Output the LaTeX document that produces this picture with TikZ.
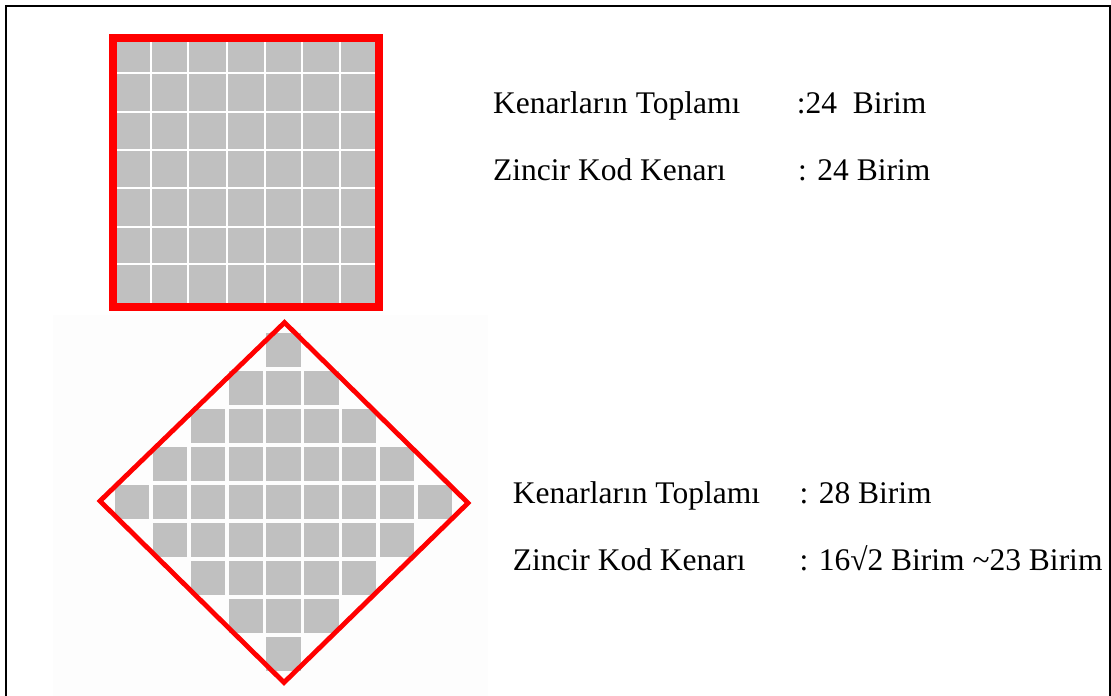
\documentclass[tikz,border=0pt]{standalone}
\usepackage{fontspec}
\setmainfont{Liberation Serif}
\definecolor{silver}{HTML}{C0C0C0}
\definecolor{offwhite}{HTML}{FDFDFD}
\definecolor{pured}{HTML}{FF0000}
\begin{document}
\begin{tikzpicture}[x=1pt,y=-1pt,
  lbl/.style={anchor=base west,inner sep=0pt,font=\fontsize{31.5}{36}\selectfont},
  cellfill/.style={fill=silver},
  gridline/.style={draw=white,line width=1.8},
  redborder/.style={draw=pured,line width=8},
  reddiamond/.style={draw=pured,line width=4.8,line join=miter},
  frameline/.style={draw=black,line width=2}]
\useasboundingbox (0,0) rectangle (1111,696);
% faint background behind the diamond
\fill[offwhite] (53,315) rectangle (488,696);
% outer frame (open at the bottom)
\draw[frameline] (5.5,696) -- (5.5,5.5) -- (1110,5.5) -- (1110,696);
% top square
\fill[silver] (113,38) rectangle (379,306.5);
\foreach \x in {150.7,188.3,226.7,265,302.3,340}
  \draw[gridline] (\x,38) -- (\x,306.5);
\foreach \y in {73.3,111.7,150,188.3,226.7,264.3}
  \draw[gridline] (113,\y) -- (379,\y);
\draw[redborder] (113,38) rectangle (379,306.5);
% diamond cells
\foreach \i in {-4,...,4}{
  \foreach \j in {-4,...,4}{
    \pgfmathtruncatemacro\d{abs(\i)+abs(\j)}
    \ifnum\d<5
      \fill[cellfill] ({283.5+37.9*\i-17.1},{502.3+38*\j-17.1}) rectangle +(34.2,34.2);
    \fi
  }
}
% diamond outline
\coordinate (dt) at (284.5,322.5);
\coordinate (dr) at (468,503);
\coordinate (db) at (284,682.5);
\coordinate (dl) at (100,501);
\draw[reddiamond] (dt) -- (dr) -- (db) -- (dl) -- cycle;
% texts
\node[lbl] (t1a) at (493,113.3) {Kenarların Toplamı};
\node[lbl] (t1b) at (796.7,113.3) {:24\ \ Birim};
\node[lbl] (t2a) at (493,180) {Zincir Kod Kenarı};
\node[lbl] (t2b) at (798,180) {: 24 Birim};
\node[lbl] (b1a) at (512.7,503.3) {Kenarların Toplamı};
\node[lbl] (b1b) at (799.3,503.3) {: 28 Birim};
\node[lbl] (b2a) at (512.7,570) {Zincir Kod Kenarı};
\node[lbl] (b2b) at (799.3,570) {: 16√2 Birim \textasciitilde23 Birim};
\end{tikzpicture}
\end{document}
